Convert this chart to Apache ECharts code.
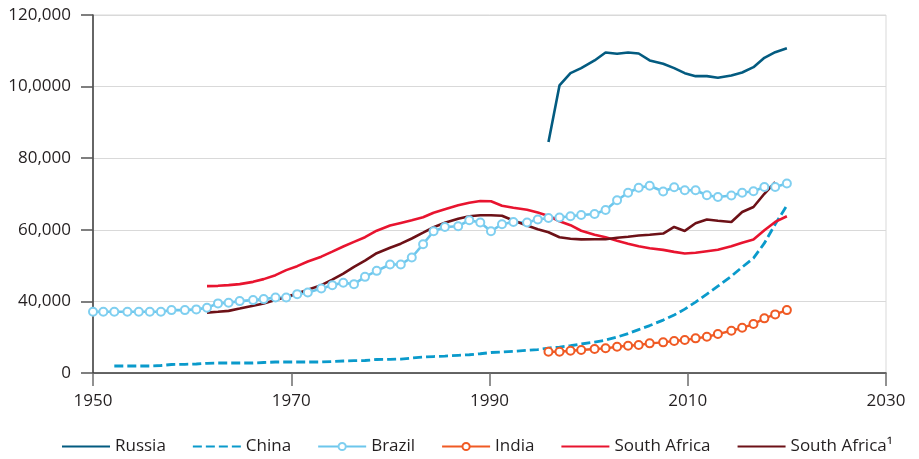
<!DOCTYPE html>
<html>
<head>
<meta charset="utf-8">
<script src="https://cdn.jsdelivr.net/npm/echarts@6/dist/echarts.min.js"></script>
<style>
  html, body { margin: 0; padding: 0; background: #ffffff; }
  #chart { width: 919px; height: 459px; }
</style>
</head>
<body>
<div id="chart"></div>
<script>
// Observation points along the time axis (years), shared by every series
const sampleYears = [
  1950.00, 1951.04, 1952.15, 1953.47, 1954.62, 1955.73, 1956.85, 1957.92, 1959.27, 1960.42,
  1961.50, 1962.61, 1963.68, 1964.80, 1966.15, 1967.22, 1968.41, 1969.49, 1970.60, 1971.67,
  1973.03, 1974.14, 1975.25, 1976.33, 1977.44, 1978.62, 1979.97, 1981.05, 1982.16, 1983.30,
  1984.36, 1985.50, 1986.84, 1987.96, 1989.07, 1990.15, 1991.26, 1992.41, 1993.79, 1994.87,
  1995.95, 1997.06, 1998.17, 1999.25, 2000.60, 2001.71, 2002.87, 2003.98, 2005.05, 2006.16,
  2007.52, 2008.63, 2009.70, 2010.79, 2011.93, 2013.04, 2014.40, 2015.49, 2016.63, 2017.73,
  2018.82, 2020.00
];

// Axis tick labels
const xTickLabels = ['1950', '1970', '1990', '2010', '2030'];
const yTickLabels = ['0', '40,000', '60,000', '80,000', '10,0000', '120,000'];

// Series values; each starts at the given index of sampleYears
const russiaStart = 40;
const russia = [
  84510, 100320, 103750, 105150, 107300, 109530, 109160, 109530, 109250, 107300,
  106380, 105150, 103750, 102920, 102920, 102470, 103110, 103950, 105430, 108050,
  109610, 110730
];

const chinaStart = 2;
const china = [
  21950, 21950, 21950, 21950, 22090, 22370, 22430, 22510, 22710, 22790,
  22790, 22790, 22790, 22930, 23070, 23070, 23070, 23070, 23070, 23210,
  23350, 23430, 23490, 23770, 23820, 23900, 24180, 24460, 24600, 24740,
  24940, 25100, 25380, 25720, 25860, 26050, 26330, 26550, 26970, 27250,
  27610, 28090, 28650, 29200, 30040, 31020, 32130, 33250, 34780, 36180,
  37850, 39800, 42030, 44260, 47050, 49560, 52070, 56260, 61560, 66800
];

const brazilStart = 0;
const brazil = [
  37100, 37100, 37100, 37100, 37100, 37100, 37100, 37570, 37570, 37770,
  38210, 39440, 39610, 40080, 40360, 40640, 41110, 41110, 42030, 42510,
  43620, 44540, 45190, 44820, 46860, 48530, 50320, 50320, 52270, 55980,
  59600, 60800, 61000, 62670, 62030, 59600, 61560, 62200, 62030, 62870,
  63310, 63420, 63790, 64150, 64430, 65540, 68250, 70340, 71740, 72290,
  70680, 71880, 71040, 71040, 69640, 69170, 69560, 70340, 70760, 71960,
  71960, 72910
];

const indiaStart = 40;
const india = [
  25940, 25940, 26220, 26410, 26690, 26890, 27340, 27610, 27810, 28280,
  28560, 28920, 29200, 29680, 30120, 30880, 31800, 32630, 33670, 35260,
  36370, 37570
];

const southAfricaStart = 10;
const southAfrica = [
  44260, 44350, 44540, 44820, 45460, 46220, 47330, 48730, 49840, 51150,
  52490, 53890, 55340, 56620, 57930, 59740, 61190, 61920, 62670, 63510,
  64760, 65740, 66860, 67550, 68050, 67970, 66720, 66160, 65600, 64820,
  63870, 62390, 61280, 59740, 58630, 57930, 56950, 56120, 55420, 54860,
  54390, 53830, 53380, 53610, 54030, 54440, 55420, 56400, 57290, 59880,
  62200, 63790
];

const southAfrica1Start = 10;
const southAfrica1 = [
  36870, 37100, 37350, 37990, 38770, 39440, 40360, 41250, 42230, 43290,
  44540, 46080, 47750, 49650, 51380, 53470, 55000, 56120, 57570, 59190,
  60720, 61970, 63090, 63790, 64070, 64070, 63930, 62590, 61190, 60160,
  59320, 57930, 57510, 57320, 57340, 57370, 57790, 58070, 58400, 58630,
  58960, 60800, 59690, 61840, 62870, 62530, 62200, 64990, 66380, 70060,
  73350
];

const seriesNames = ['Russia', 'China', 'Brazil', 'India', 'South Africa', 'South Africa\u00b9'];

// Pair each value with its year
function toPoints(start, values) {
  return values.map((v, i) => [sampleYears[start + i], v]);
}

const FONT = '"Open Sans", "Noto Sans", sans-serif';
const TEXT = '#231f20';
const CLEAR = 'rgba(0,0,0,0)';

const chart = echarts.init(document.getElementById('chart'), null, { renderer: 'canvas' });

function lineSeries(name, start, values, color, extra) {
  return Object.assign({
    name: name,
    type: 'line',
    data: toPoints(start, values),
    symbol: 'none',
    smooth: false,
    lineStyle: { color: color, width: 2.6 },
    itemStyle: { color: color },
    emphasis: { disabled: true },
    z: 2
  }, extra || {});
}

// Plain lines in the legend for series drawn without markers
const markerless = new Set(['Russia', 'China', 'South Africa', 'South Africa\u00b9']);
const legendData = seriesNames.map(n => markerless.has(n)
  ? { name: n, itemStyle: { color: CLEAR, borderColor: CLEAR, borderWidth: 0 } }
  : { name: n });

chart.setOption({
  animation: false,
  grid: {
    left: 93, right: 33, top: 15, bottom: 86,
    show: true, borderColor: '#d9d9d9', borderWidth: 1, backgroundColor: 'transparent'
  },
  legend: {
    left: 56,
    top: 433,
    itemWidth: 48,
    itemHeight: 9,
    itemGap: 26,
    textStyle: { fontFamily: FONT, fontSize: 17, color: TEXT },
    data: legendData
  },
  xAxis: {
    type: 'value',
    min: 1950, max: 2030, interval: 20,
    axisLine: { show: true, lineStyle: { color: '#3a3a3a', width: 1.5 } },
    axisTick: { show: true, length: 13, lineStyle: { color: '#6e6e6e', width: 1.5 } },
    splitLine: { show: false },
    axisLabel: {
      margin: 20,
      fontFamily: FONT, fontSize: 17, color: TEXT,
      formatter: v => xTickLabels[Math.round((v - 1950) / 20)]
    }
  },
  yAxis: {
    type: 'value',
    min: 20000, max: 120000, interval: 20000,
    axisLine: { show: true, lineStyle: { color: '#3a3a3a', width: 1.5 } },
    axisTick: { show: true, inside: false, length: 12, lineStyle: { color: '#555555', width: 1.5 } },
    splitLine: { show: true, lineStyle: { color: '#d9d9d9', width: 1.2 } },
    axisLabel: {
      margin: 22,
      fontFamily: FONT, fontSize: 17, color: TEXT,
      formatter: v => yTickLabels[Math.round((v - 20000) / 20000)]
    }
  },
  series: [
    lineSeries(seriesNames[0], russiaStart, russia, '#035b80'),
    lineSeries(seriesNames[1], chinaStart, china, '#0a9acb', {
      lineStyle: { color: '#0a9acb', width: 2.8, type: [9, 4] }
    }),
    lineSeries(seriesNames[2], brazilStart, brazil, '#6cc6ec', {
      symbol: 'emptyCircle',
      symbolSize: 8,
      showSymbol: true,
      lineStyle: { color: '#6cc6ec', width: 2.6 },
      itemStyle: { color: '#7fcff0', borderWidth: 1.5 }
    }),
    lineSeries(seriesNames[3], indiaStart, india, '#f05a24', {
      symbol: 'emptyCircle',
      symbolSize: 8,
      showSymbol: true,
      lineStyle: { color: '#f05a24', width: 2.4 },
      itemStyle: { color: '#f05a24', borderWidth: 1.5 }
    }),
    lineSeries(seriesNames[4], southAfricaStart, southAfrica, '#e8142f'),
    lineSeries(seriesNames[5], southAfrica1Start, southAfrica1, '#6d1117')
  ]
});
</script>
</body>
</html>
